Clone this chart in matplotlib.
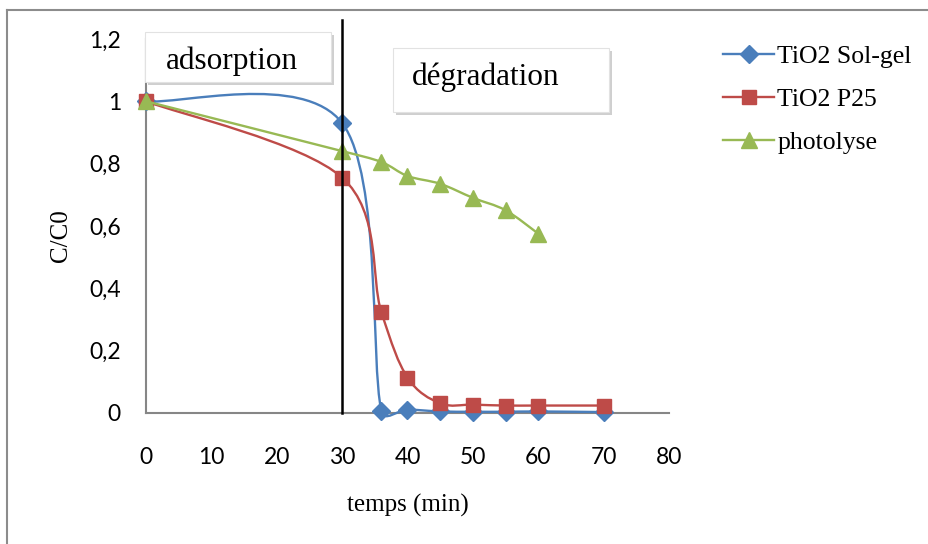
import numpy as np
import matplotlib
matplotlib.use("Agg")
import matplotlib.pyplot as plt
from matplotlib.path import Path
from matplotlib.patches import PathPatch, Rectangle
from matplotlib.lines import Line2D

# ---------------- data ----------------
t_solgel = [0, 30, 36, 40, 45, 50, 55, 60, 70]
c_solgel = [1.0, 0.93, 0.006, 0.01, 0.004, 0.003, 0.003, 0.004, 0.002]

t_p25 = [0, 30, 36, 40, 45, 50, 55, 60, 70]
c_p25 = [1.0, 0.755, 0.323, 0.113, 0.03, 0.026, 0.023, 0.023, 0.023]

t_photo = [0, 30, 36, 40, 45, 50, 55, 60]
c_photo = [1.0, 0.84, 0.805, 0.76, 0.735, 0.69, 0.65, 0.575]

series_names = ["TiO2 Sol-gel", "TiO2 P25", "photolyse"]
xticks = [0, 10, 20, 30, 40, 50, 60, 70, 80]
yticks = [0, 0.2, 0.4, 0.6, 0.8, 1.0, 1.2]
ytick_labels = ["0", "0,2", "0,4", "0,6", "0,8", "1", "1,2"]
t_separation = 30

BLUE = "#4A7EBB"
RED = "#BE4B48"
GREEN = "#98B954"

W, H = 929, 544
fig = plt.figure(figsize=(W / 100, H / 100), dpi=100)

def fx(px):
    return px / W

def fy(py):
    return 1 - py / H

ax = fig.add_axes([fx(146), fy(412.7), fx(669) - fx(146), fy(39) - fy(412.7)])
ax.set_xlim(0, 80)
ax.set_ylim(0, 1.2)

for s in ["top", "right"]:
    ax.spines[s].set_visible(False)
for s in ["left", "bottom"]:
    ax.spines[s].set_color("#868686")
    ax.spines[s].set_linewidth(1.5)

ax.set_xticks(xticks)
ax.set_yticks(yticks)
ax.set_yticklabels(ytick_labels)
ax.tick_params(axis="both", length=0, labelsize=16.5)
ax.tick_params(axis="x", pad=25)
ax.tick_params(axis="y", pad=18)
for lab in ax.get_xticklabels() + ax.get_yticklabels():
    lab.set_family(["Lato", "DejaVu Sans"])

serif = ["Liberation Serif", "DejaVu Serif"]


def excel_smooth(x, y):
    pts = ax.transData.transform(np.column_stack([x, y]))
    n = len(pts)
    verts = [pts[0]]
    codes = [Path.MOVETO]
    for i in range(n - 1):
        p0 = pts[i - 1] if i > 0 else pts[i]
        p1 = pts[i]
        p2 = pts[i + 1]
        p3 = pts[i + 2] if i + 2 < n else pts[i + 1]
        d02 = np.hypot(*(p2 - p0))
        d12 = np.hypot(*(p2 - p1))
        d13 = np.hypot(*(p3 - p1))
        f0 = 1 / 6
        f1 = 1 / 6
        if d02 > 0 and d02 / 6 > d12 / 2:
            f0 = d12 / 2 / d02
        if d13 > 0 and d13 / 6 > d12 / 2:
            f1 = d12 / 2 / d13
        c1 = p1 + (p2 - p0) * f0
        c2 = p2 - (p3 - p1) * f1
        verts += [c1, c2, p2]
        codes += [Path.CURVE4] * 3
    verts = ax.transData.inverted().transform(np.array(verts))
    return Path(verts, codes)


def draw_series(x, y, color, marker, ms, z):
    ax.add_patch(PathPatch(excel_smooth(x, y), fill=False, edgecolor=color,
                           lw=1.7, zorder=z, clip_on=False, capstyle="round"))
    ax.plot(x, y, linestyle="none", marker=marker, ms=ms, color=color,
            markeredgecolor=color, zorder=z + 0.5, clip_on=False)


MS_D, MS_S, MS_T = 9, 10.5, 11
draw_series(t_solgel, c_solgel, BLUE, "D", MS_D, 3)
draw_series(t_p25, c_p25, RED, "s", MS_S, 4)
draw_series(t_photo, c_photo, GREEN, "^", MS_T, 5)

# separation line
ax.plot([t_separation, t_separation], [0, 1.26], color="black", lw=1.8,
        zorder=6, clip_on=False)

# axis labels
ax.set_xlabel("temps (min)", family=serif, fontsize=18)
ax.set_ylabel("C/C0", family=serif, fontsize=18)
ax.xaxis.set_label_coords((408 - 146) / (669 - 146), -(505 - 412.7) / (412.7 - 39))
ax.yaxis.set_label_coords(-(146 - 61) / (669 - 146), (412.7 - 236) / (412.7 - 39))
ax.xaxis.label.set_verticalalignment("center")
ax.yaxis.label.set_verticalalignment("center")


def text_box(x0, y0, x1, y1, txt, tx, ty):
    shadow = Rectangle((fx(x0 + 3), fy(y1 + 3)), fx(x1 - x0), fy(y0) - fy(y1),
                       transform=fig.transFigure, facecolor="#b0b0b0",
                       edgecolor="none", alpha=0.6, zorder=7)
    box = Rectangle((fx(x0), fy(y1)), fx(x1 - x0), fy(y0) - fy(y1),
                    transform=fig.transFigure, facecolor="white",
                    edgecolor="#e2e2e2", lw=0.8, zorder=8)
    fig.add_artist(shadow)
    fig.add_artist(box)
    fig.text(fx(tx), fy(ty), txt, family=serif, fontsize=22.5, ha="center",
             va="center", zorder=9)


text_box(145, 32, 331, 82, "adsorption", 232, 61)
text_box(393, 48, 609, 112, "dégradation", 486, 77)

# legend
handles = [
    Line2D([], [], color=BLUE, lw=1.7, marker="D", ms=MS_D),
    Line2D([], [], color=RED, lw=1.7, marker="s", ms=MS_S),
    Line2D([], [], color=GREEN, lw=1.7, marker="^", ms=MS_T),
]
fig.legend(handles, series_names, loc="upper left",
           bbox_to_anchor=(fx(723), fy(45)), frameon=False,
           prop={"family": serif, "size": 18.5}, handlelength=2.0,
           handletextpad=0.12, labelspacing=0.78, borderaxespad=0,
           borderpad=0)

# figure border (left and top only)
fig.add_artist(Line2D([fx(7), fx(7)], [0, fy(10)], color="#8c8c8c", lw=1.5,
                      transform=fig.transFigure))
fig.add_artist(Line2D([fx(7), 1], [fy(10), fy(10)], color="#8c8c8c", lw=1.5,
                      transform=fig.transFigure))

fig.savefig("out.png", dpi=100)
